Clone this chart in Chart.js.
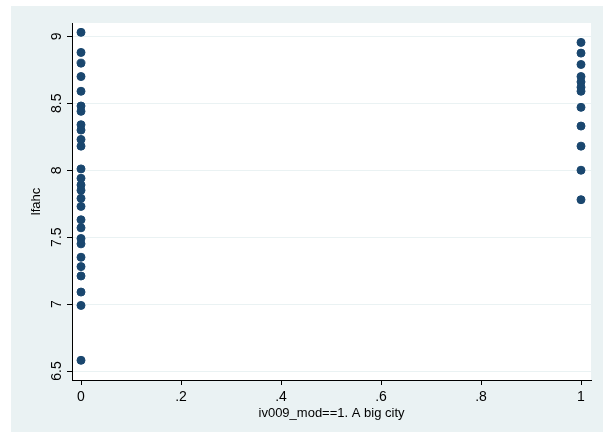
<!DOCTYPE html>
<html>
<head>
<meta charset="utf-8">
<script src="https://cdn.jsdelivr.net/npm/chart.js@4/dist/chart.umd.min.js"></script>
<style>
  html, body { margin: 0; padding: 0; background: #ffffff; }
  #wrap { width: 603px; height: 432px; }
</style>
</head>
<body>
<div id="wrap"><canvas id="c" width="603" height="432"></canvas></div>
<script>
// lfahc by city indicator (0 = not a big city, 1 = a big city)
const lfahcOther = [9.03, 8.88, 8.80, 8.70, 8.59, 8.48, 8.44, 8.34, 8.30, 8.23, 8.18,
                    8.01, 7.94, 7.89, 7.85, 7.79, 7.73, 7.63, 7.57, 7.49, 7.45, 7.35,
                    7.28, 7.21, 7.09, 6.99, 6.58];
const lfahcBigCity = [8.955, 8.875, 8.79, 8.70, 8.66, 8.62, 8.59, 8.47, 8.33, 8.18, 8.00, 7.78];

const xTicks = [0, 0.2, 0.4, 0.6, 0.8, 1];
const xTickLabels = ['0', '.2', '.4', '.6', '.8', '1'];
const yTicks = [6.5, 7, 7.5, 8, 8.5, 9];
const yTickLabels = ['6.5', '7', '7.5', '8', '8.5', '9'];

const points = [
  ...lfahcOther.map(v => ({ x: 0, y: v })),
  ...lfahcBigCity.map(v => ({ x: 1, y: v }))
];

const FONT = 'Liberation Sans, Arial, sans-serif';

// page band and white plot region
const backdrop = {
  id: 'backdrop',
  beforeDraw(chart) {
    const { ctx, chartArea: a } = chart;
    ctx.save();
    ctx.fillStyle = '#ffffff';
    ctx.fillRect(0, 0, chart.width, chart.height);
    ctx.fillStyle = '#eaf2f3';
    ctx.fillRect(11, 6, chart.width - 11, chart.height - 6);
    ctx.fillStyle = '#ffffff';
    ctx.fillRect(a.left, a.top, a.right - a.left, a.bottom - a.top);
    ctx.restore();
  }
};

new Chart(document.getElementById('c'), {
  type: 'scatter',
  data: {
    datasets: [{
      data: points,
      backgroundColor: '#1a476f',
      borderColor: '#1a476f',
      borderWidth: 1,
      pointRadius: 4,
      pointHoverRadius: 4
    }]
  },
  options: {
    responsive: false,
    animation: false,
    events: [],
    layout: { padding: { left: 11, right: 12, top: 23, bottom: 0 } },
    plugins: { legend: { display: false }, tooltip: { enabled: false } },
    scales: {
      x: {
        type: 'linear',
        min: -0.018,
        max: 1.02,
        afterFit(s) { s.height = 52; },
        afterBuildTicks(s) { s.ticks = xTicks.map(v => ({ value: v })); },
        border: { display: true, color: '#000000', width: 1 },
        grid: { drawOnChartArea: false, tickLength: 5, tickColor: '#000000', tickWidth: 1 },
        ticks: {
          color: '#000000',
          font: { family: FONT, size: 14 },
          padding: 4,
          maxRotation: 0,
          callback(v) { const i = xTicks.indexOf(v); return i >= 0 ? xTickLabels[i] : ''; }
        },
        title: {
          display: true,
          text: 'iv009_mod==1. A big city',
          color: '#000000',
          font: { family: FONT, size: 13 },
          padding: { top: 0, bottom: 11 }
        }
      },
      y: {
        type: 'linear',
        min: 6.433,
        max: 9.1,
        afterFit(s) { s.width = 61; },
        afterBuildTicks(s) { s.ticks = yTicks.map(v => ({ value: v })); },
        border: { display: true, color: '#000000', width: 1 },
        grid: { drawOnChartArea: true, color: '#eaf2f3', lineWidth: 1, tickLength: 5, tickColor: '#000000', tickWidth: 1 },
        ticks: {
          color: '#000000',
          font: { family: FONT, size: 14 },
          padding: 0,
          minRotation: 90,
          maxRotation: 90,
          crossAlign: 'center',
          callback(v) { const i = yTicks.indexOf(v); return i >= 0 ? yTickLabels[i] : ''; }
        },
        title: {
          display: true,
          text: 'lfahc',
          color: '#000000',
          font: { family: FONT, size: 13 },
          padding: { top: 18, bottom: 0 }
        }
      }
    }
  },
  plugins: [backdrop]
});
</script>
</body>
</html>
